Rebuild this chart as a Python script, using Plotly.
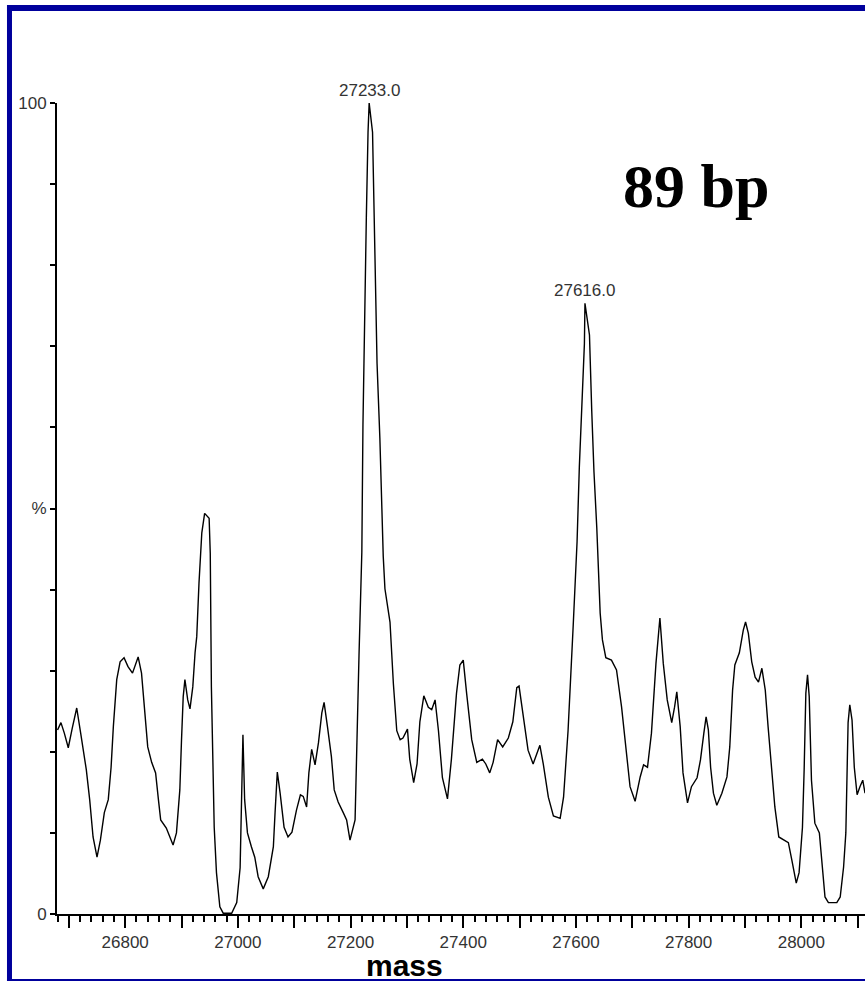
import plotly.graph_objects as go

# Spectrum trace (mass, relative intensity %)
mass = [26680, 26686, 26692, 26699, 26706, 26714, 26721, 26731, 26737, 26743,
        26750, 26756, 26763, 26770, 26775, 26779, 26785, 26791, 26798, 26805,
        26813, 26819, 26823, 26829, 26834, 26840, 26847, 26854, 26859, 26863,
        26873, 26879, 26885, 26891, 26897, 26900, 26903, 26906, 26911, 26915,
        26920, 26924, 26927, 26931, 26936, 26941, 26949, 26951, 26953, 26958,
        26962, 26968, 26974, 26989, 26998, 27004, 27007, 27009, 27012, 27017,
        27024, 27030, 27036, 27045, 27054, 27063, 27066, 27070, 27075, 27082,
        27089, 27096, 27104, 27111, 27116, 27122, 27126, 27131, 27137, 27143,
        27149, 27153, 27159, 27166, 27171, 27178, 27187, 27193, 27199, 27208,
        27215, 27220, 27222, 27225, 27228, 27231, 27233, 27239, 27243, 27247,
        27252, 27255, 27258, 27261, 27270, 27276, 27282, 27288, 27293, 27301,
        27305, 27312, 27318, 27323, 27330, 27338, 27344, 27350, 27356, 27363,
        27372, 27379, 27388, 27394, 27400, 27406, 27415, 27424, 27434, 27440,
        27447, 27453, 27461, 27470, 27480, 27488, 27495, 27499, 27507, 27515,
        27524, 27530, 27536, 27542, 27551, 27560, 27572, 27578, 27586, 27595,
        27602, 27606, 27610, 27615, 27616, 27624, 27628, 27632, 27637, 27641,
        27643, 27647, 27653, 27663, 27672, 27681, 27688, 27696, 27705, 27714,
        27720, 27727, 27734, 27742, 27749, 27755, 27762, 27770, 27775, 27779,
        27785, 27790, 27798, 27805, 27815, 27821, 27827, 27831, 27835, 27839,
        27844, 27850, 27859, 27868, 27873, 27878, 27882, 27890, 27897, 27901,
        27906, 27912, 27918, 27924, 27930, 27936, 27941, 27947, 27953, 27960,
        27969, 27977, 27983, 27991, 27996, 28002, 28005, 28008, 28011, 28014,
        28018, 28024, 28032, 28036, 28042, 28048, 28063, 28069, 28075, 28079,
        28081, 28083, 28086, 28090, 28094, 28099, 28104, 28109, 28113]
intensity = [22.7, 23.6, 22.3, 20.5, 22.9, 25.4, 22.3, 17.8, 14.1, 9.5,
             7.0, 9.1, 12.5, 14.1, 18.1, 23.1, 28.9, 31.1, 31.6, 30.5,
             29.7, 30.9, 31.7, 29.7, 25.5, 20.6, 18.7, 17.4, 14.1, 11.6,
             10.6, 9.5, 8.5, 10.0, 15.3, 21.5, 26.8, 28.9, 26.4, 25.3,
             28.0, 32.2, 34.2, 40.8, 47.0, 49.4, 48.8, 44.5, 28.0, 10.7,
             5.1, 0.9, 0.1, 0.1, 1.4, 5.7, 14.4, 22.1, 14.1, 10.0,
             8.3, 7.0, 4.6, 3.1, 4.6, 8.3, 12.5, 17.5, 14.9, 10.7,
             9.5, 10.1, 12.8, 14.7, 14.5, 13.2, 17.4, 20.3, 18.4, 21.1,
             24.8, 26.1, 23.1, 19.4, 15.3, 13.8, 12.5, 11.6, 9.1, 11.6,
             31.9, 44.6, 60.4, 76.7, 85.9, 96.4, 100.0, 96.4, 83.6, 67.9,
             58.7, 50.4, 44.1, 40.1, 36.0, 28.4, 22.6, 21.5, 21.7, 22.8,
             19.1, 16.2, 18.5, 23.7, 26.9, 25.5, 25.2, 26.4, 22.6, 16.8,
             14.2, 19.1, 27.2, 30.7, 31.3, 27.2, 21.5, 18.7, 19.1, 18.5,
             17.4, 18.7, 21.5, 20.6, 21.7, 23.7, 27.9, 28.1, 24.3, 20.2,
             18.5, 19.6, 20.8, 18.5, 14.4, 12.1, 11.8, 14.4, 22.6, 35.4,
             45.9, 55.1, 62.1, 70.3, 75.3, 71.4, 62.1, 54.5, 47.6, 41.2,
             37.1, 33.8, 31.6, 31.3, 30.1, 25.5, 20.6, 15.7, 13.9, 16.9,
             18.4, 18.1, 22.3, 30.9, 36.5, 30.9, 26.4, 23.6, 25.5, 27.4,
             23.1, 17.4, 13.7, 15.7, 16.8, 19.0, 22.3, 24.3, 22.7, 18.1,
             14.9, 13.4, 14.9, 16.9, 20.6, 27.6, 30.7, 32.2, 35.0, 36.0,
             34.6, 31.1, 29.2, 28.6, 30.3, 27.6, 23.1, 18.1, 13.2, 9.5,
             9.1, 8.8, 6.7, 3.8, 5.1, 10.7, 17.8, 27.2, 29.5, 26.8,
             16.5, 11.2, 10.0, 6.7, 2.1, 1.4, 1.4, 2.1, 5.8, 10.0,
             16.5, 23.6, 25.8, 23.9, 18.1, 14.7, 15.7, 16.5, 14.9]

peak_masses = [27233, 27616]
peak_heights = [100.0, 75.3]
peak_labels = ["27233.0", "27616.0"]

x_tickvals = list(range(26700, 28200, 100))
x_ticktext = [str(v) if v % 200 == 0 else "" for v in x_tickvals]
y_tickvals = list(range(0, 101, 10))
y_ticktext = ["0" if v == 0 else ("%" if v == 50 else ("100" if v == 100 else "")) for v in y_tickvals]

LABEL_FONT = "Liberation Sans, Arial, sans-serif"
BLUE = "#00009c"

fig = go.Figure()
fig.add_trace(go.Scatter(x=mass, y=intensity, mode="lines",
                         line=dict(color="black", width=1.4), hoverinfo="skip"))

for m, h, t in zip(peak_masses, peak_heights, peak_labels):
    fig.add_annotation(x=m, y=h, text=t, showarrow=False, xanchor="center", yanchor="bottom", yshift=1,
                       font=dict(family=LABEL_FONT, size=17, color="#333"))

fig.add_annotation(xref="paper", yref="paper", x=0.791, y=0.898, text="<b>89 bp</b>",
                   xanchor="center", yanchor="middle", showarrow=False,
                   font=dict(family="Liberation Serif, Times New Roman, serif", size=62, color="black"))
fig.add_annotation(xref="paper", yref="paper", x=0.4295, y=-0.064, text="<b>mass</b>",
                   xanchor="center", yanchor="middle", showarrow=False,
                   font=dict(family="Liberation Sans, Arial, sans-serif", size=30, color="black"))

# blue frame
fig.add_shape(type="rect", xref="paper", yref="paper", x0=-0.0619, x1=1.01, y0=1.1134, y1=1.1208,
              fillcolor=BLUE, line=dict(width=0), layer="above")
fig.add_shape(type="rect", xref="paper", yref="paper", x0=-0.0619, x1=-0.0557, y0=-0.0826, y1=1.1208,
              fillcolor=BLUE, line=dict(width=0), layer="above")
fig.add_shape(type="line", xref="paper", yref="paper", x0=-0.0619, x1=1.01, y0=-0.0814, y1=-0.0814,
              line=dict(color=BLUE, width=2), layer="above")

fig.update_layout(
    width=865, height=982,
    margin=dict(l=57, r=0, t=103, b=68),
    paper_bgcolor="white", plot_bgcolor="white",
    showlegend=False,
    xaxis=dict(range=[26679, 28113], showgrid=False, zeroline=False,
               showline=True, linecolor="black", linewidth=2,
               tickmode="array", tickvals=x_tickvals, ticktext=x_ticktext,
               ticks="outside", ticklen=12, tickwidth=1.5, tickcolor="black",
               minor=dict(dtick=20, tick0=26700, ticks="outside", ticklen=6, tickwidth=1.5, tickcolor="black"),
               tickfont=dict(family=LABEL_FONT, size=17, color="#333")),
    yaxis=dict(range=[0, 100], showgrid=False, zeroline=False,
               showline=True, linecolor="black", linewidth=2,
               tickmode="array", tickvals=y_tickvals, ticktext=y_ticktext,
               ticks="outside", ticklen=5, tickwidth=1.5, tickcolor="black",
               tickfont=dict(family=LABEL_FONT, size=17, color="#333")),
)

fig.write_html("out.html", config={"displayModeBar": False},
               post_script="document.body.style.margin='0px';")
